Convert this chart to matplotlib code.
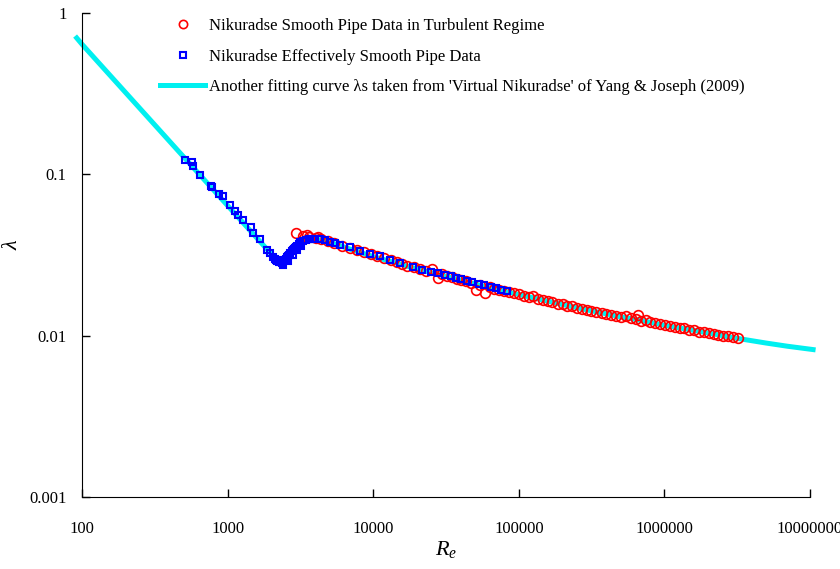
import matplotlib
matplotlib.use('Agg')
import matplotlib.pyplot as plt

plt.rcParams['font.family'] = ['Liberation Serif', 'DejaVu Serif']
plt.rcParams['mathtext.fontset'] = 'custom'
plt.rcParams['mathtext.rm'] = 'Liberation Serif'
plt.rcParams['mathtext.it'] = 'Liberation Serif:italic'

# fitting curve lambda_s (Yang & Joseph 2009)
fit_re = [92, 100, 500, 1000, 1500, 2000, 2200, 2300, 2400, 2600, 2900, 3200, 3600,
          4000, 4500, 5000, 6000, 7000, 8000, 1e4, 1.5e4, 2e4, 3e4, 5e4, 7e4, 1e5,
          2e5, 3e5, 5e5, 7e5, 1e6, 2e6, 3e6, 5e6, 7e6, 1.05e7]
fit_lam = [0.70, 0.64, 0.128, 0.064, 0.0427, 0.032, 0.0291, 0.0284, 0.0292, 0.0318,
           0.0352, 0.0378, 0.0394, 0.0396, 0.0390, 0.0380, 0.0360, 0.0343, 0.0330,
           0.0309, 0.0279, 0.0259, 0.0236, 0.0209, 0.0194, 0.0180, 0.0156, 0.0144,
           0.0131, 0.0124, 0.0116, 0.0104, 0.0097, 0.0090, 0.0086, 0.0082]

# Nikuradse smooth pipe, turbulent regime
red_re = [2950, 3300, 3520, 3650, 4050, 4170, 4400, 4900, 5400, 6100, 6900, 7800,
          8700, 9600, 10700, 11900, 13200, 14500, 15800, 17200, 19000, 21000, 23100,
          25300, 27800, 29500, 32000, 35000, 37500, 40000, 43500, 47000, 50800, 54000,
          58600, 63000, 68000, 73000, 79000, 85000, 92000, 100000, 108000, 117000,
          126000, 136000, 147000, 158000, 170000, 185000, 200000, 215000, 232000,
          250000, 270000, 292000, 315000, 340000, 370000, 400000, 430000, 465000,
          505000, 545000, 590000, 640000, 659000, 690000, 745000, 800000, 865000,
          935000, 1010000, 1090000, 1180000, 1270000, 1370000, 1480000, 1600000,
          1730000, 1870000, 2020000, 2180000, 2350000, 2540000, 2740000, 2960000,
          3200000]
red_lam = [0.0430, 0.0417, 0.0418, 0.0410, 0.0403, 0.0409, 0.0397, 0.0386, 0.0375,
           0.0362, 0.0350, 0.0338, 0.0328, 0.0320, 0.0311, 0.0303, 0.0293, 0.0286,
           0.0278, 0.0272, 0.0265, 0.0258, 0.0252, 0.0259, 0.0228, 0.0240, 0.0236,
           0.0230, 0.0226, 0.0221, 0.0218, 0.0213, 0.0192, 0.0206, 0.0184, 0.0199,
           0.0195, 0.0192, 0.0189, 0.0186, 0.0183, 0.0180, 0.0177, 0.0174, 0.0176,
           0.0169, 0.0166, 0.0164, 0.0162, 0.0158, 0.0157, 0.0153, 0.0152, 0.0149,
           0.0147, 0.0145, 0.0143, 0.0141, 0.0139, 0.0137, 0.0135, 0.0133, 0.0131,
           0.0132, 0.0128, 0.0126, 0.0134, 0.0124, 0.0125, 0.0121, 0.0120, 0.0118,
           0.0116, 0.0115, 0.0113, 0.0112, 0.0111, 0.0109, 0.0108, 0.0106, 0.0105,
           0.0104, 0.0102, 0.0101, 0.0100, 0.0099, 0.0098, 0.0097]

# Nikuradse effectively smooth pipe
blue_re = [510, 569, 579, 646, 769, 781, 873, 930, 1039, 1124, 1179, 1276, 1448, 1494,
           1669, 1865, 1955, 2050, 2100, 2150, 2200, 2250, 2290, 2330, 2350, 2400,
           2400, 2450, 2500, 2560, 2600, 2600, 2650, 2700, 2770, 2800, 2800, 2850,
           2900, 2950, 3000, 3000, 3100, 3150, 3200, 3300, 3450, 3600, 3700, 3850,
           4000, 4300, 4650, 5050, 5450, 5900, 6900, 8100, 9500, 11100, 13000, 15300,
           18800, 21500, 25000, 28000, 31000, 34000, 37000, 40000, 44000, 48000,
           53000, 58000, 64000, 70000, 76000, 83000]
blue_lam = [0.1227, 0.1192, 0.1126, 0.0990, 0.0846, 0.0834, 0.0755, 0.0734, 0.0645,
            0.0592, 0.0559, 0.0521, 0.0471, 0.0433, 0.0397, 0.0340, 0.0325, 0.0307,
            0.0300, 0.0296, 0.0290, 0.0287, 0.0286, 0.0290, 0.0283, 0.0292, 0.0275,
            0.0295, 0.0300, 0.0306, 0.0313, 0.0290, 0.0318, 0.0325, 0.0333, 0.0340,
            0.0318, 0.0345, 0.0350, 0.0356, 0.0362, 0.0340, 0.0370, 0.0378, 0.0357,
            0.0385, 0.0392, 0.0396, 0.0400, 0.0398, 0.0400, 0.0395, 0.0390, 0.0380,
            0.0375, 0.0366, 0.0352, 0.0336, 0.0322, 0.0310, 0.0294, 0.0283, 0.0266,
            0.0257, 0.0249, 0.0243, 0.0237, 0.0233, 0.0228, 0.0224, 0.0219, 0.0215,
            0.0210, 0.0206, 0.0201, 0.0197, 0.0193, 0.0189]

x_ticks = [100, 1000, 10000, 100000, 1000000, 10000000]
x_labels = ['100', '1000', '10000', '100000', '1000000', '10000000']
y_ticks = [0.001, 0.01, 0.1, 1]
y_labels = ['0.001', '0.01', '0.1', '1']

fig = plt.figure(figsize=(8.4, 5.69), dpi=100)
ax = fig.add_axes([0.0976, 0.1265, 0.8667, 0.8507])

ax.plot(fit_re, fit_lam, color='#00f0f0', lw=3.6, clip_on=False, zorder=1,
        label="Another fitting curve \u03bbs taken from 'Virtual Nikuradse' of Yang & Joseph (2009)")
ax.plot(red_re, red_lam, 'o', mfc='none', mec='red', ms=7, mew=1.2, zorder=2,
        label='Nikuradse Smooth Pipe Data in Turbulent Regime')
ax.plot(blue_re, blue_lam, 's', mfc='none', mec='blue', ms=4.5, mew=1.5, zorder=3,
        label='Nikuradse Effectively Smooth Pipe Data')

ax.set_xscale('log')
ax.set_yscale('log')
ax.set_xlim(100, 1e7)
ax.set_ylim(0.001, 1)
ax.set_xticks(x_ticks)
ax.set_xticklabels(x_labels)
ax.set_yticks(y_ticks)
ax.set_yticklabels(y_labels)
ax.minorticks_off()
ax.tick_params(axis='both', direction='in', length=6, width=1, labelsize=12)
ax.tick_params(axis='x', pad=17)
ax.tick_params(axis='y', pad=11)
for s in ['top', 'right']:
    ax.spines[s].set_visible(False)

ax.set_xlabel('$R_e$', fontsize=16, labelpad=2)
ax.set_ylabel('\u03bb', fontsize=16, style='italic')
ax.yaxis.set_label_coords(-0.082, 0.52)

h, l = ax.get_legend_handles_labels()
ax.legend([h[1], h[2], h[0]], [l[1], l[2], l[0]], loc='upper left',
          bbox_to_anchor=(0.1905, 0.968), bbox_transform=fig.transFigure,
          frameon=False, fontsize=12, handlelength=2.7, handletextpad=0.25,
          labelspacing=0.87, borderpad=0, borderaxespad=0, numpoints=1,
          markerscale=0.85)

fig.savefig('out.png', dpi=100)
